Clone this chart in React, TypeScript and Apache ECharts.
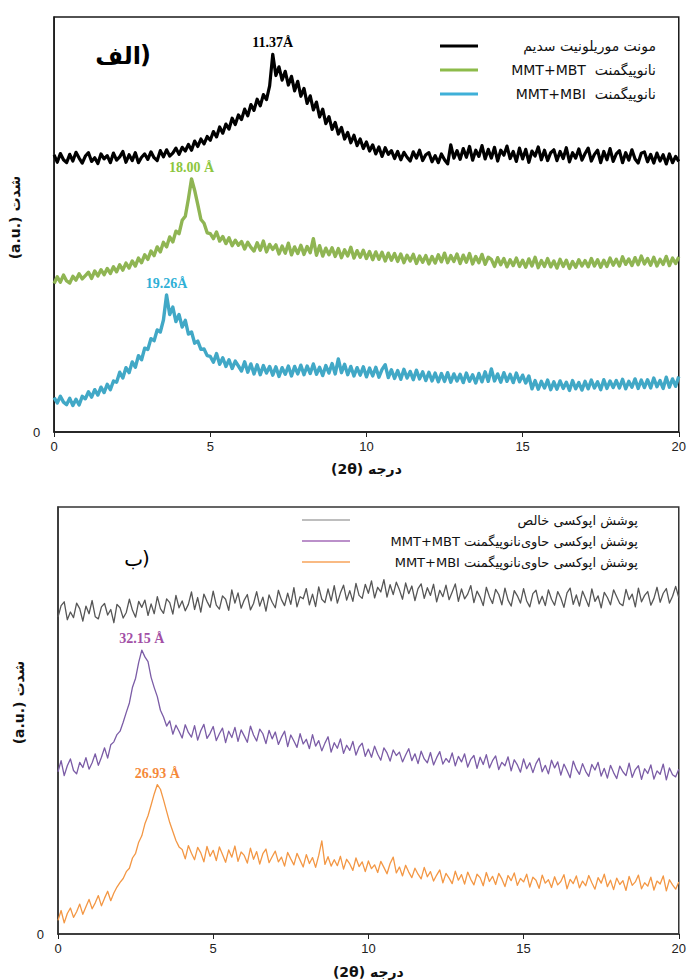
import React, { useEffect, useRef } from "react";
import * as echarts from "echarts";

// 2θ grid: 0 .. 20 step 0.1 (201 points)
const TWO_THETA_STEP = 0.1;
const X_TICKS = [0, 5, 10, 15, 20];

// ---- Panel الف (top) ----
const NA_MMT = [
  66.8, 65.0, 67.1, 65.6, 64.9, 66.9, 65.3, 67.4, 66.0, 64.8,
  66.5, 67.3, 65.2, 66.1, 64.7, 67.0, 65.8, 66.6, 64.9, 67.2,
  65.5, 66.3, 67.6, 65.0, 66.8, 65.4, 67.3, 64.9, 66.2, 67.0,
  65.7, 67.5, 66.1, 65.4, 67.8, 66.3, 68.0, 66.5, 67.2, 68.4,
  66.9, 68.6, 67.7, 69.3, 67.9, 70.1, 68.8, 70.6, 69.4, 71.2,
  70.3, 72.4, 71.1, 73.5, 72.0, 74.2, 73.0, 75.6, 74.1, 76.4,
  75.3, 77.8, 76.2, 78.9, 77.5, 80.2, 78.6, 81.3, 80.1, 83.4,
  91.0, 85.9, 88.0, 84.8, 86.9, 83.6, 85.7, 82.2, 84.5, 80.9,
  82.8, 79.2, 81.0, 77.6, 79.5, 75.9, 77.8, 74.3, 76.0, 72.9,
  74.6, 71.8, 73.4, 70.6, 72.2, 69.7, 71.5, 69.0, 70.6, 68.3,
  69.9, 67.7, 69.2, 67.0, 68.7, 66.4, 68.5, 66.9, 67.8, 65.9,
  67.6, 65.6, 67.4, 66.2, 65.3, 67.5, 66.0, 67.9, 65.4, 66.8,
  67.3, 65.1, 66.6, 64.9, 67.0, 65.6, 64.6, 69.2, 66.0, 67.8,
  65.7, 68.3, 66.2, 68.8, 65.5, 67.9, 66.4, 69.0, 65.8, 68.1,
  66.0, 68.6, 65.3, 67.9, 66.7, 68.9, 65.9, 67.6, 65.2, 68.4,
  65.8, 68.1, 65.0, 67.7, 66.5, 68.7, 65.6, 67.9, 65.4, 67.3,
  68.0, 65.4, 67.6, 65.9, 68.5, 65.1, 67.3, 66.0, 68.2, 65.5,
  67.1, 68.4, 65.3, 66.9, 67.9, 64.9, 67.6, 65.6, 68.3, 65.2,
  67.0, 67.8, 64.9, 67.3, 65.5, 68.0, 65.8, 64.8, 67.2, 67.5,
  65.1, 66.9, 64.8, 67.2, 65.3, 66.8, 64.6, 67.0, 64.9, 66.4,
  65.2,
];

const MMT_MBT = [
  35.8, 37.4, 36.1, 37.8, 36.4, 35.9, 37.5, 36.6, 38.1, 36.9,
  37.7, 38.5, 37.0, 38.8, 37.6, 39.1, 37.9, 39.4, 38.2, 39.8,
  38.6, 40.3, 39.0, 40.7, 39.5, 41.2, 40.0, 41.9, 40.8, 42.7,
  41.6, 43.6, 42.5, 44.6, 43.4, 45.7, 44.6, 47.0, 45.8, 48.4,
  47.8, 51.0, 52.0, 56.2, 61.0, 58.2, 54.8, 51.2, 50.3, 48.0,
  47.8, 46.6, 48.2, 46.0, 47.1, 45.4, 46.8, 44.9, 46.2, 45.0,
  45.9, 44.1, 45.7, 44.5, 43.6, 45.6, 43.8, 46.0, 43.4, 45.2,
  44.0, 45.1, 42.9, 44.8, 43.1, 45.5, 42.7, 44.6, 43.0, 45.0,
  42.8, 44.7, 43.2, 46.6, 42.6, 44.9, 42.4, 44.3, 42.7, 44.4,
  42.3, 44.2, 42.0, 43.9, 42.4, 44.5, 41.9, 43.7, 42.1, 43.8,
  41.8, 43.5, 41.5, 43.4, 41.6, 43.3, 41.2, 43.1, 41.4, 43.0,
  41.1, 42.9, 40.8, 42.6, 41.2, 42.8, 40.6, 42.4, 40.9, 42.5,
  40.5, 42.3, 40.7, 42.7, 41.0, 43.1, 40.8, 42.5, 41.1, 42.9,
  40.6, 42.6, 40.9, 43.0, 40.5, 42.3, 40.8, 42.8, 40.4, 42.1,
  41.6, 39.9, 42.0, 40.3, 41.8, 39.8, 41.5, 40.1, 41.9, 39.9,
  41.4, 39.7, 41.7, 40.0, 42.1, 39.6, 41.3, 39.9, 41.8, 39.8,
  41.2, 39.5, 41.6, 39.9, 41.4, 39.4, 41.1, 39.7, 41.5, 40.0,
  41.3, 39.8, 41.8, 40.0, 41.5, 39.7, 41.4, 39.9, 41.9, 40.2,
  41.6, 40.0, 42.2, 40.4, 41.7, 40.1, 42.0, 40.3, 42.4, 40.5,
  41.8, 40.2, 42.1, 40.0, 41.6, 40.4, 42.3, 40.1, 41.9, 40.6,
  42.2,
];

const MMT_MBI = [
  8.3, 7.0, 8.6, 7.2, 6.6, 8.1, 6.4, 7.9, 6.5, 8.6,
  8.0, 9.7, 8.4, 10.2, 8.9, 10.8, 9.5, 11.5, 10.2, 12.3,
  12.0, 14.4, 13.0, 15.5, 14.3, 16.9, 15.6, 18.4, 17.4, 20.2,
  19.9, 22.5, 22.0, 24.6, 24.1, 27.0, 33.0, 28.3, 30.1, 26.6,
  28.3, 25.3, 26.9, 23.6, 24.1, 21.4, 21.9, 19.9, 20.0, 18.4,
  18.2, 16.8, 18.9, 16.3, 17.9, 15.8, 17.4, 15.3, 17.1, 15.9,
  14.7, 16.9, 14.4, 16.4, 14.0, 16.2, 13.8, 16.0, 14.2, 15.8,
  13.7, 15.7, 13.4, 15.5, 13.9, 15.9, 13.5, 15.8, 14.0, 16.1,
  13.8, 15.9, 14.1, 16.4, 13.9, 15.6, 13.6, 16.0, 14.2, 16.5,
  14.0, 17.6, 14.3, 16.3, 13.8, 15.8, 13.5, 15.5, 13.7, 15.7,
  13.3, 15.4, 13.5, 15.6, 13.2, 15.1, 16.2, 13.1, 15.0, 12.9,
  14.8, 12.7, 15.1, 13.0, 14.6, 12.6, 14.9, 12.8, 14.5, 12.4,
  14.4, 12.3, 14.2, 12.1, 14.1, 12.2, 14.3, 12.0, 14.0, 12.3,
  13.9, 11.9, 14.2, 12.2, 13.8, 11.8, 14.1, 12.1, 14.5, 12.2,
  15.2, 12.3, 14.0, 12.0, 14.3, 12.2, 13.9, 11.9, 14.2, 12.1,
  13.7, 11.8, 13.5, 10.4, 12.4, 10.3, 12.2, 10.6, 12.5, 10.2,
  12.1, 10.3, 12.3, 10.5, 12.0, 10.0, 12.4, 10.4, 11.9, 10.1,
  12.2, 10.4, 12.5, 10.6, 12.1, 10.2, 12.6, 10.5, 12.3, 10.7,
  12.4, 10.6, 12.7, 10.4, 12.2, 10.8, 12.8, 10.5, 12.5, 10.7,
  12.6, 10.6, 13.0, 10.9, 12.4, 10.5, 13.2, 10.8, 12.8, 11.0,
  13.4,
];

// ---- Panel ب (bottom) ----
const EPOXY = [
  74.2, 76.9, 77.8, 73.6, 75.4, 74.1, 77.5, 76.2, 73.3, 76.8,
  75.0, 78.1, 74.3, 73.8, 76.6, 77.4, 74.7, 76.0, 72.9, 77.2,
  76.4, 74.0, 75.3, 78.4, 75.8, 74.2, 77.9, 76.5, 78.2, 74.6,
  77.3, 75.0, 79.0, 76.2, 75.1, 78.5, 77.6, 74.9, 79.3, 76.4,
  78.0, 75.7, 77.2, 80.1, 76.0, 78.8, 75.4, 79.6, 77.9, 76.5,
  80.3, 77.0, 76.1, 79.2, 78.4, 75.8, 80.6, 77.5, 79.9, 76.3,
  78.2, 79.5, 75.9, 77.4, 80.2, 76.8, 78.9, 75.6, 79.4, 77.7,
  76.4, 80.5, 78.3, 76.9, 79.8, 77.2, 81.1, 76.6, 79.0, 78.5,
  80.9, 77.1, 79.6, 76.7, 81.3, 78.4, 77.6, 80.8, 78.0, 81.6,
  77.5, 79.9, 81.7, 78.2, 80.4, 77.9, 82.1, 79.3, 78.6, 81.9,
  79.8, 82.7, 78.7, 81.2, 80.1, 83.0, 78.9, 81.8, 79.5, 82.4,
  80.6, 78.4, 82.2, 79.7, 81.5, 78.1, 80.9, 82.0, 78.6, 81.1,
  79.3, 81.9, 77.8, 80.5, 79.0, 81.7, 78.3, 80.1, 82.0, 77.9,
  80.8, 78.5, 79.6, 81.6, 77.6, 80.3, 78.9, 76.9, 81.2, 79.0,
  77.4, 80.7, 79.5, 77.1, 81.0, 78.2, 76.8, 80.4, 79.2, 77.5,
  80.9, 78.0, 76.6, 79.7, 80.5, 77.3, 79.1, 76.9, 80.6, 78.4,
  77.0, 80.2, 78.7, 76.5, 79.9, 81.0, 77.2, 79.4, 76.8, 80.3,
  78.5, 76.7, 80.8, 77.9, 79.2, 76.4, 80.0, 78.8, 77.1, 80.6,
  79.0, 77.4, 76.9, 80.7, 78.3, 79.6, 76.6, 81.0, 77.8, 79.3,
  80.2, 77.0, 78.6, 81.2, 77.7, 79.8, 80.9, 77.5, 79.1, 81.4,
  78.8,
];

const EPOXY_MBT = [
  38.0, 40.6, 37.1, 39.4, 41.0, 38.3, 37.5, 40.2, 39.0, 41.3,
  38.6, 40.1, 42.2, 39.5, 41.4, 43.6, 41.2, 44.3, 45.0, 46.7,
  47.5, 49.6, 51.9, 54.1, 57.8, 59.9, 63.6, 66.5, 64.9, 63.8,
  60.1, 57.7, 55.6, 52.4, 50.8, 48.7, 49.9, 46.8, 48.9, 47.5,
  45.9, 49.0, 47.2, 46.1, 48.8, 45.4, 47.6, 49.1, 45.8, 47.0,
  48.6, 45.3, 46.9, 48.2, 44.8, 47.5, 46.0, 48.4, 45.1, 47.8,
  46.4, 44.9, 48.7, 46.6, 45.2, 48.0, 46.9, 44.6, 47.7, 45.7,
  47.3, 44.4, 46.1, 47.5, 43.9, 46.6, 45.2, 43.7, 46.9, 44.5,
  45.6, 43.4, 46.7, 44.0, 45.3, 42.9, 44.7, 46.2, 42.6, 44.8,
  43.5, 45.7, 42.3, 44.2, 43.0, 45.1, 41.9, 43.8, 44.7, 41.6,
  43.3, 41.4, 44.0, 42.1, 40.7, 43.6, 42.4, 40.5, 43.1, 41.8,
  42.6, 40.3, 41.9, 43.4, 40.6, 42.2, 39.9, 42.8, 41.0, 40.1,
  42.5, 39.6, 41.3, 42.7, 39.8, 41.1, 40.2, 42.4, 39.4, 41.6,
  40.3, 42.2, 39.1, 40.9, 41.8, 38.8, 41.4, 39.7, 42.0, 38.9,
  40.6, 41.7, 38.5, 40.2, 39.4, 41.5, 38.2, 40.8, 39.6, 37.9,
  41.0, 38.7, 40.1, 37.8, 39.9, 41.2, 38.0, 39.5, 37.5, 40.7,
  38.9, 40.3, 37.2, 39.8, 38.3, 36.6, 40.5, 38.6, 37.4, 39.9,
  38.1, 36.9, 39.7, 38.4, 40.2, 37.0, 38.8, 36.5, 39.5, 37.8,
  36.4, 39.3, 38.0, 37.1, 40.0, 36.7, 38.5, 39.4, 36.2, 38.7,
  37.6, 39.6, 36.3, 38.2, 37.4, 39.8, 36.1, 38.9, 37.3, 36.8,
  38.6,
];

const EPOXY_MBI = [
  3.2, 5.5, 2.6, 4.8, 6.1, 3.9, 5.2, 7.0, 4.6, 6.4,
  8.1, 5.9, 7.3, 9.0, 6.6, 8.4, 10.0, 7.8, 9.6, 11.0,
  12.1, 13.0, 14.6, 15.4, 17.8, 18.9, 21.5, 23.0, 25.8, 27.7,
  30.2, 32.8, 35.0, 33.9, 31.4, 28.7, 26.1, 24.0, 21.9, 20.4,
  19.8, 17.6, 20.7, 18.9, 17.4, 20.3, 19.0, 16.9, 20.5, 18.2,
  19.6, 17.2, 20.4, 18.6, 16.8, 19.7, 18.0, 20.6, 17.0, 19.2,
  18.4, 16.6, 20.1, 17.5, 19.3, 16.4, 18.8, 19.9, 16.7, 18.1,
  19.4, 16.9, 18.0, 15.9, 19.1, 17.6, 16.2, 18.9, 17.3, 15.7,
  18.6, 16.5, 17.9, 15.6, 18.4, 21.8, 16.3, 18.1, 15.9, 17.4,
  16.0, 18.2, 15.2, 17.5, 16.4, 14.9, 17.8, 15.8, 16.9, 14.6,
  17.1, 15.3, 16.2, 14.4, 17.0, 15.6, 14.1, 16.5, 18.0, 14.3,
  15.7, 13.6, 16.1, 14.5, 13.2, 15.4, 14.0, 12.9, 15.6, 13.4,
  14.6, 12.4, 13.8, 15.0, 12.0, 14.2, 13.1, 11.8, 14.7, 12.6,
  13.9, 11.7, 14.5, 12.8, 11.5, 14.0, 13.2, 11.3, 14.4, 12.3,
  13.5, 11.6, 14.2, 12.9, 11.1, 13.7, 12.5, 14.3, 11.4, 13.0,
  12.2, 14.0, 11.0, 13.3, 12.6, 10.7, 13.8, 11.9, 12.7, 10.9,
  13.4, 11.5, 12.3, 13.9, 10.6, 12.8, 11.8, 13.6, 10.8, 12.4,
  11.3, 13.7, 12.0, 10.5, 13.2, 11.9, 14.0, 11.1, 12.6, 10.4,
  13.1, 11.6, 12.5, 10.2, 13.5, 11.4, 12.2, 13.8, 10.6, 12.0,
  11.2, 13.3, 10.3, 12.4, 11.7, 13.6, 10.1, 12.7, 11.5, 10.5,
  12.2,
];

const TOP_NAMES = ["مونت موریلونیت سدیم", "MMT+MBT  نانوپیگمنت", "MMT+MBI  نانوپیگمنت"];
const BOTTOM_NAMES = [
  "پوشش اپوکسی خالص",
  "MMT+MBT پوشش اپوکسی حاوی‌نانوپیگمنت",
  "MMT+MBI پوشش اپوکسی حاوی‌نانوپیگمنت",
];
const TOP_PEAKS = ["11.37Å", "18.00 Å", "19.26Å"];
const BOTTOM_PEAKS = ["", "32.15 Å", "26.93 Å"];
const PANEL_LETTERS = ["الف", "ب"];
const PANEL_PAREN = ")";
const X_TITLE = "(2θ) درجه";
const Y_TITLE = "(a.u.) شدت";

const TOP_COLORS = ["#000000", "#8fb553", "#41a8c6"];
const TOP_LEGEND_COLORS = ["#000000", "#8dbb4a", "#3fb0d8"];
const TOP_LABEL_COLORS = ["#000000", "#8cc63e", "#2fb0d6"];
const BOTTOM_COLORS = ["#565656", "#7b5ca6", "#f39744"];
const BOTTOM_LEGEND_COLORS = ["#a8a8a8", "#a56bb8", "#f7a35a"];
const BOTTOM_LABEL_COLORS = ["#555555", "#a24fa6", "#f5893a"];

const toPairs = (arr: number[]) => arr.map((v, i) => [Number((i * TWO_THETA_STEP).toFixed(1)), v]);

const FA = "'DejaVu Sans', 'Noto Sans', sans-serif";
const SERIF = "'Liberation Serif', 'DejaVu Serif', serif";
const SANS = "'Liberation Sans', Arial, sans-serif";

export default function App() {
  const ref = useRef<HTMLDivElement>(null);

  useEffect(() => {
    document.body.style.margin = "0";
    if (!ref.current) return;
    const chart = echarts.init(ref.current, undefined, { renderer: "svg" });

    const grids = [
      { left: 54, top: 17, width: 627, height: 415, borderColor: "#1a1a1a", yGap: 25, yShift: 14 },
      { left: 58, top: 507, width: 623, height: 430, borderColor: "#333333", yGap: 29, yShift: 36 },
    ];

    const xAxes = grids.map((g, gi) => ({
      type: "value",
      gridIndex: gi,
      min: X_TICKS[0],
      max: X_TICKS[X_TICKS.length - 1],
      interval: 5,
      name: X_TITLE,
      nameLocation: "middle",
      nameGap: gi === 0 ? 30 : 31,
      nameTextStyle: { fontFamily: FA, fontSize: 14, fontWeight: "bold", color: "#111" },
      axisLine: { show: true, lineStyle: { color: g.borderColor, width: 1.5 } },
      axisTick: { show: true, length: 5, inside: false, lineStyle: { color: "#222" } },
      axisLabel: { fontFamily: SANS, fontSize: 13, color: "#222", margin: 8 },
      splitLine: { show: false },
    }));

    const yAxes = grids.map((g, gi) => ({
      type: "value",
      gridIndex: gi,
      min: 0,
      max: 100,
      interval: 100,
      name: Y_TITLE,
      nameLocation: "middle",
      nameRotate: 90,
      nameGap: g.yGap,
      nameTextStyle: {
        fontFamily: FA,
        fontSize: 14,
        fontWeight: "bold",
        color: "#111",
        padding: [0, 0, 0, g.yShift],
      },
      axisLine: { show: true, lineStyle: { color: g.borderColor, width: 1.5 } },
      axisTick: { show: false },
      axisLabel: {
        fontFamily: SANS,
        fontSize: 13,
        color: "#222",
        margin: 14,
        formatter: (v: number) => (v === 0 ? "0" : ""),
      },
      splitLine: { show: false },
    }));

    const mkSeries = (
      data: number[],
      gi: number,
      color: string,
      width: number,
      peak: string,
      labelColor: string,
      name: string
    ) => ({
      type: "line",
      name,
      xAxisIndex: gi,
      yAxisIndex: gi,
      data: toPairs(data),
      showSymbol: false,
      symbol: "none",
      smooth: false,
      lineStyle: { color, width, join: "round" },
      z: 3,
      markPoint: peak
        ? {
            symbol: "circle",
            symbolSize: 1,
            itemStyle: { color: "rgba(0,0,0,0)" },
            data: [{ type: "max", name: "peak" }],
            label: {
              show: true,
              position: "top",
              distance: 4,
              formatter: peak,
              color: labelColor,
              fontFamily: SERIF,
              fontWeight: "bold",
              fontSize: 14,
            },
          }
        : undefined,
    });

    const series = [
      mkSeries(NA_MMT, 0, TOP_COLORS[0], 3.2, TOP_PEAKS[0], TOP_LABEL_COLORS[0], TOP_NAMES[0]),
      mkSeries(MMT_MBT, 0, TOP_COLORS[1], 3.4, TOP_PEAKS[1], TOP_LABEL_COLORS[1], TOP_NAMES[1]),
      mkSeries(MMT_MBI, 0, TOP_COLORS[2], 3.4, TOP_PEAKS[2], TOP_LABEL_COLORS[2], TOP_NAMES[2]),
      mkSeries(EPOXY, 1, BOTTOM_COLORS[0], 1.3, BOTTOM_PEAKS[0], BOTTOM_LABEL_COLORS[0], BOTTOM_NAMES[0]),
      mkSeries(EPOXY_MBT, 1, BOTTOM_COLORS[1], 1.3, BOTTOM_PEAKS[1], BOTTOM_LABEL_COLORS[1], BOTTOM_NAMES[1]),
      mkSeries(EPOXY_MBI, 1, BOTTOM_COLORS[2], 1.3, BOTTOM_PEAKS[2], BOTTOM_LABEL_COLORS[2], BOTTOM_NAMES[2]),
    ];

    const legendItems: any[] = [];
    const topLegendY = [46, 70, 94];
    TOP_NAMES.forEach((n, i) => {
      legendItems.push({
        type: "line",
        shape: { x1: 440, y1: topLegendY[i], x2: 478, y2: topLegendY[i] },
        style: { stroke: TOP_LEGEND_COLORS[i], lineWidth: 3 },
      });
      legendItems.push({
        type: "text",
        x: 656,
        y: topLegendY[i],
        style: {
          text: n,
          textAlign: "right",
          textVerticalAlign: "middle",
          fontFamily: FA,
          fontSize: 14,
          fill: "#111",
        },
      });
    });
    const botLegendY = [520, 541, 562];
    BOTTOM_NAMES.forEach((n, i) => {
      legendItems.push({
        type: "line",
        shape: { x1: 302, y1: botLegendY[i], x2: 350, y2: botLegendY[i] },
        style: { stroke: BOTTOM_LEGEND_COLORS[i], lineWidth: 1.6 },
      });
      legendItems.push({
        type: "text",
        x: 638,
        y: botLegendY[i],
        style: {
          text: n,
          textAlign: "right",
          textVerticalAlign: "middle",
          fontFamily: FA,
          fontSize: 13,
          fill: "#111",
        },
      });
    });

    const panelLabel = (letter: string, rightX: number, y: number, size: number, bold: boolean) => [
      {
        type: "text",
        x: rightX,
        y,
        style: {
          text: letter,
          textAlign: "right",
          textVerticalAlign: "middle",
          fontFamily: FA,
          fontWeight: bold ? "bold" : "normal",
          fontSize: size,
          fill: "#000",
        },
      },
      {
        type: "text",
        x: rightX - 1,
        y: y - 1,
        style: {
          text: PANEL_PAREN,
          textAlign: "left",
          textVerticalAlign: "middle",
          fontFamily: FA,
          fontWeight: bold ? "bold" : "normal",
          fontSize: size,
          fill: "#000",
        },
      },
    ];

    const option: any = {
      animation: false,
      backgroundColor: "#ffffff",
      grid: grids.map((g) => ({
        left: g.left,
        top: g.top,
        width: g.width,
        height: g.height,
        show: true,
        borderColor: g.borderColor,
        borderWidth: 1.5,
        containLabel: false,
      })),
      xAxis: xAxes,
      yAxis: yAxes,
      series,
      graphic: [
        ...legendItems,
        ...panelLabel(PANEL_LETTERS[0], 141, 56, 24, true),
        ...panelLabel(PANEL_LETTERS[1], 143, 559, 20, false),
      ],
    };

    chart.setOption(option);
    return () => chart.dispose();
  }, []);

  return <div ref={ref} style={{ width: 689, height: 980 }} />;
}
